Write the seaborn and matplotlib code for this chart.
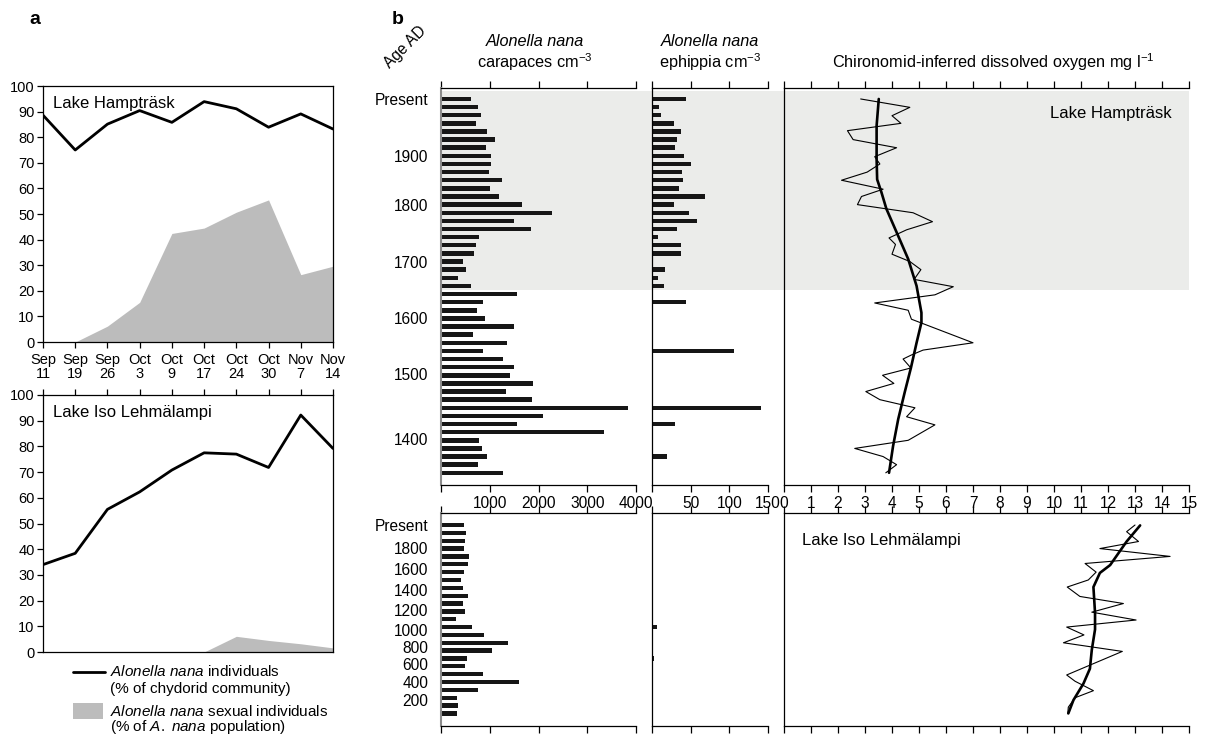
import numpy as np
import pandas as pd
import seaborn as sns
import matplotlib
matplotlib.use("Agg")
import matplotlib.pyplot as plt
from matplotlib.patches import Rectangle
from matplotlib.lines import Line2D

# ---- panel a: seasonal samples ----
datas = ['Sep\n11', 'Sep\n19', 'Sep\n26', 'Oct\n3', 'Oct\n9', 'Oct\n17', 'Oct\n24', 'Oct\n30', 'Nov\n7', 'Nov\n14']
hamp_total = [88.6, 75.0, 85.1, 90.4, 85.8, 93.9, 91.1, 83.9, 89.1, 83.2]
hamp_sexual = [0, 0, 6.2, 15.5, 42.4, 44.5, 50.7, 55.5, 26.3, 29.6]
iso_total = [34.0, 38.4, 55.5, 62.3, 70.8, 77.5, 77.0, 71.8, 92.2, 79.2]
iso_sexual = [0, 0, 0, 0, 0, 0, 6.1, 4.5, 3.2, 1.6]

# ---- panel b: Hampträsk core (47 samples) ----
carap_hamp = [622, 759, 813, 718, 936, 1107, 916, 1018, 1018, 977, 1258, 998, 1196, 1654, 2269, 1490,
              1845, 772, 711, 684, 444, 513, 342, 622, 1552, 854, 731, 895, 1490, 663, 1360, 854, 1278,
              1490, 1408, 1886, 1340, 1866, 3835, 2085, 1552, 3349, 772, 834, 936, 752, 1278]
ephip_hamp = [44, 9, 11, 28, 37, 32, 30, 41, 50, 39, 40, 35, 68, 28, 48, 58, 32, 8, 37, 37, 0, 17, 8, 16, 0,
              44, 0, 0, 0, 0, 0, 106, 0, 0, 0, 0, 0, 0, 141, 0, 30, 0, 0, 0, 20, 0, 0]
amostra_hamp = np.arange(len(carap_hamp))
idade_hamp_pos = [0, 7, 13, 20, 27, 33.9, 41.9]
idade_hamp_lab = ['Present', '1900', '1800', '1700', '1600', '1500', '1400']

do_hamp_pos = [0, 1.03, 2.06, 3.0, 3.9, 5.0, 6.0, 7.1, 8.0, 9.0, 10.0, 11.1, 12.0, 13.0, 14.0, 15.1, 16.1,
               17.1, 17.9, 19.1, 20.0, 21.0, 22.2, 23.1, 24.1, 25.1, 26.0, 27.1, 30.0, 30.9, 31.5, 32.0,
               33.1, 34.0, 35.0, 36.0, 37.0, 38.0, 39.1, 40.1, 42.0, 43.0, 44.0, 45.0, 46.0]
do_hamp = [2.84, 4.66, 4.0, 4.33, 2.35, 2.56, 4.17, 3.36, 3.55, 3.08, 2.13, 3.67, 2.87, 2.72, 4.78, 5.5,
           4.54, 3.89, 4.13, 4.0, 4.66, 5.07, 4.82, 6.27, 5.59, 3.36, 4.6, 4.72, 7.0, 5.15, 4.72, 4.41,
           4.7, 3.65, 4.07, 3.03, 3.55, 4.85, 4.54, 5.59, 4.6, 2.62, 3.67, 4.17, 3.77]
loess_hamp_pos = [0, 3.3, 7.4, 9.9, 11.5, 13.5, 16.4, 19.7, 23.0, 26.3, 27.5, 30.0, 33.1, 36.1, 39.4, 42.7, 46.0]
loess_hamp = [3.51, 3.43, 3.43, 3.45, 3.61, 3.79, 4.17, 4.6, 4.91, 5.09, 5.09, 4.91, 4.7, 4.47, 4.23, 4.04, 3.89]

# ---- panel b: Iso Lehmälampi core (25 samples) ----
carap_iso = [468, 508, 488, 468, 576, 556, 468, 407, 447, 556, 447, 488, 298, 637, 888, 1376, 1037, 529,
             488, 868, 1607, 759, 319, 339, 319]
ephip_iso = [0, 0, 0, 0, 0, 0, 0, 0, 0, 0, 0, 0, 0, 6.4, 0, 0, 0, 2.6, 0, 0, 0, 0, 0, 0, 0]
amostra_iso = np.arange(len(carap_iso))
idade_iso_pos = [0, 2.97, 5.65, 8.28, 10.83, 13.38, 15.5, 17.7, 19.97, 22.3]
idade_iso_lab = ['Present', '1800', '1600', '1400', '1200', '1000', '800', '600', '400', '200']

do_iso_pos = [0, 0.85, 2.1, 3.0, 4.0, 4.9, 6.0, 7.0, 7.9, 9.1, 10.0, 11.1, 12.1, 13.0, 14.0, 15.0, 16.1,
              19.1, 19.9, 21.1, 22.0, 23.2, 24.0]
do_iso = [13.0, 12.69, 13.13, 11.7, 14.3, 11.15, 11.56, 11.27, 10.49, 10.96, 12.57, 11.4, 13.04, 10.47,
          11.11, 10.35, 12.53, 10.47, 10.78, 11.46, 10.78, 10.53, 10.51]
loess_iso_pos = [0.05, 2.1, 5.1, 6.1, 7.9, 11.2, 13.3, 15.9, 18.3, 20.2, 22.3, 24.0]
loess_iso = [13.19, 12.69, 12.08, 11.7, 11.46, 11.52, 11.52, 11.4, 11.33, 11.09, 10.72, 10.53]

# ---- estilo ----
sns.set_style("ticks")
plt.rcParams['font.family'] = ['Liberation Sans', 'DejaVu Sans']
plt.rcParams['mathtext.fontset'] = 'custom'
plt.rcParams['mathtext.rm'] = 'Liberation Sans'
plt.rcParams['mathtext.it'] = 'Liberation Sans:italic'
plt.rcParams['font.size'] = 10.5
plt.rcParams['axes.linewidth'] = 0.9
for k in ['text.color', 'axes.labelcolor', 'xtick.color', 'ytick.color', 'axes.edgecolor']:
    plt.rcParams[k] = 'black'

W, H = 1206, 736
fig = plt.figure(figsize=(W / 100, H / 100), dpi=100)


def eixo(l, t, r, b):
    a = fig.add_axes([l / W, 1 - b / H, (r - l) / W, (b - t) / H])
    a.set_facecolor('none')
    return a


FS = 10.5     # ticks painel a
FSB = 11.2    # ticks painel b
FSH = 11.7    # cabeçalhos
cinza_a = '#bcbcbc'
cinza_faixa = '#ebecea'
preto = '#161616'

# ---- painel a ----
xa = np.arange(len(datas))
axA1 = eixo(43, 86, 333, 342)
axA2 = eixo(43, 395, 333, 652)
for ax, tot, sex, lago in [(axA1, hamp_total, hamp_sexual, 'Lake Hampträsk'),
                           (axA2, iso_total, iso_sexual, 'Lake Iso Lehmälampi')]:
    ax.fill_between(xa, sex, color=cinza_a, lw=0)
    sns.lineplot(x=xa, y=tot, color='black', lw=2.0, ax=ax)
    ax.set_xlim(0, 9)
    ax.set_ylim(0, 100)
    ax.set_yticks(range(0, 101, 10))
    ax.set_xticks(xa)
    ax.tick_params(axis='both', direction='out', length=4, width=0.9, labelsize=FS, pad=2)
    ax.text(0.035, 0.93, lago, transform=ax.transAxes, fontsize=12, va='center', ha='left')
axA1.set_xticklabels(datas, linespacing=1.0)
axA1.tick_params(axis='x', pad=4)
axA2.tick_params(axis='x', top=True, bottom=False, labelbottom=False)

fig.text(35 / W, 1 - 20 / H, 'a', fontsize=14, fontweight='bold', ha='center', va='center')

# ---- painel b ----
cols = [(441, 652, 4000 * (652 - 441) / (636 - 441), [0, 1000, 2000, 3000, 4000], ['', '1000', '2000', '3000', '4000'], 4000),
        (652, 784, 150 * (784 - 652) / (768 - 652), [0, 50, 100, 150], ['', '50', '100', '150'], 150),
        (784, 1189, 15, list(range(16)), [str(i) for i in range(16)], 15)]

linhas = [(88, 485, (47.5, -1.35), carap_hamp, ephip_hamp, amostra_hamp,
           idade_hamp_pos, idade_hamp_lab, do_hamp_pos, do_hamp, loess_hamp_pos, loess_hamp),
          (513, 726, (25.6, -1.53), carap_iso, ephip_iso, amostra_iso,
           idade_iso_pos, idade_iso_lab, do_iso_pos, do_iso, loess_iso_pos, loess_iso)]

for li, (t, b, ylim, carap, ephip, amostra, ipos, ilab, dpos, dval, lpos, lval) in enumerate(linhas):
    for ci, (l, r, xmax, ticks, tlabs, smax) in enumerate(cols):
        ax = eixo(l, t, r, b)
        if li == 0:
            ax.axhspan(-1.0, 23.5, color=cinza_faixa, lw=0, zorder=0)
        if ci == 0:
            sns.barplot(x=carap, y=amostra, orient='h', color=preto, saturation=1,
                        width=0.55, linewidth=0, native_scale=True, ax=ax)
        elif ci == 1:
            sns.barplot(x=ephip, y=amostra, orient='h', color=preto, saturation=1,
                        width=0.55, linewidth=0, native_scale=True, ax=ax)
        else:
            sns.lineplot(x=dval, y=dpos, sort=False, estimator=None, color='black', lw=0.8, ax=ax)
            sns.lineplot(x=lval, y=lpos, sort=False, estimator=None, color='black', lw=1.9, ax=ax)
        ax.set_xlim(0, xmax)
        ax.set_ylim(*ylim)
        ax.set_xlabel('')
        ax.set_ylabel('')
        ax.spines['right'].set_visible(False)
        ax.spines['top'].set_bounds(0, smax)
        ax.spines['bottom'].set_bounds(0, smax)
        ax.set_xticks(ticks)
        ax.set_xticklabels(tlabs if li == 0 else [''] * len(ticks))
        ax.tick_params(axis='x', top=True, bottom=True, direction='out', length=5,
                       width=0.9, labelsize=FSB, pad=3)
        if ci == 0:
            ax.set_yticks(ipos)
            ax.set_yticklabels(ilab)
            ax.tick_params(axis='y', length=0, labelsize=FSB, pad=9)
            ax.spines['left'].set_color('#8c8c8c')
            ax.spines['left'].set_linewidth(1.5)
        else:
            ax.set_yticks([])
        if ci == 2:
            if li == 0:
                ax.text(0.958, 0.937, 'Lake Hampträsk', transform=ax.transAxes, fontsize=12,
                        ha='right', va='center')
            else:
                ax.text(0.044, 0.873, 'Lake Iso Lehmälampi', transform=ax.transAxes, fontsize=12,
                        ha='left', va='center')

# cabeçalhos
fig.text(398 / W, 1 - 20 / H, 'b', fontsize=14, fontweight='bold', ha='center', va='center')
fig.text(405 / W, 1 - 47 / H, 'Age AD', fontsize=FSB, rotation=45, ha='center', va='center')
fig.text(535 / W, 1 - 42 / H, 'Alonella nana', fontsize=FSH, style='italic', ha='center', va='center')
fig.text(535 / W, 1 - 62 / H, 'carapaces cm$^{-3}$', fontsize=FSH, ha='center', va='center')
fig.text(710 / W, 1 - 42 / H, 'Alonella nana', fontsize=FSH, style='italic', ha='center', va='center')
fig.text(710 / W, 1 - 62 / H, 'ephippia cm$^{-3}$', fontsize=FSH, ha='center', va='center')
fig.text(993 / W, 1 - 62 / H, 'Chironomid-inferred dissolved oxygen mg l$^{-1}$', fontsize=FSH,
         ha='center', va='center')

# legenda do painel a
ov = fig.add_axes([0, 0, 1, 1])
ov.set_xlim(0, W)
ov.set_ylim(H, 0)
ov.axis('off')
ov.add_line(Line2D([73, 105], [672, 672], color='black', lw=2.0))
ov.add_patch(Rectangle((73, 703), 30, 16, color=cinza_a, lw=0))
ov.text(110, 672, r'$\mathit{Alonella\ nana}$ individuals', fontsize=11, va='center')
ov.text(110, 689, '(% of chydorid community)', fontsize=11, va='center')
ov.text(110, 711, r'$\mathit{Alonella\ nana}$ sexual individuals', fontsize=11, va='center')
ov.text(110, 727, r'(% of $\mathit{A.\ nana}$ population)', fontsize=11, va='center')

fig.savefig('out.png', dpi=100)
